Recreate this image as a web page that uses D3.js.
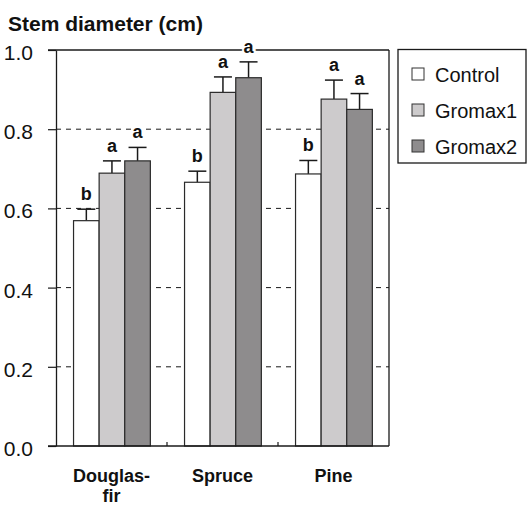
<!DOCTYPE html>
<html><head><meta charset="utf-8">
<script src="https://cdn.jsdelivr.net/npm/d3@7"></script>
<style>body{margin:0;background:#fff}svg{display:block}text{font-family:"Liberation Sans",Arial,Helvetica,sans-serif}</style>
</head><body>
<svg id="c" width="529" height="506"></svg>
<script>
const categories = [["Douglas-","fir"], ["Spruce"], ["Pine"]];
const seriesNames = ["Control", "Gromax1", "Gromax2"];
const control = [0.569, 0.666, 0.687];
const gromax1 = [0.689, 0.893, 0.876];
const gromax2 = [0.720, 0.930, 0.850];
const errControl = [0.029, 0.028, 0.034];
const errGromax1 = [0.031, 0.039, 0.048];
const errGromax2 = [0.034, 0.040, 0.040];
const lettersControl = ["b", "b", "b"];
const lettersGromax1 = ["a", "a", "a"];
const lettersGromax2 = ["a", "a", "a"];
const yTicks = [0, 0.2, 0.4, 0.6, 0.8, 1.0];
const colors = ["#ffffff", "#cdcbcc", "#8e8c8d"];

const values = [control, gromax1, gromax2];
const errs = [errControl, errGromax1, errGromax2];
const letters = [lettersControl, lettersGromax1, lettersGromax2];

const svg = d3.select("#c");
const L = 56, R = 389, T = 50, B = 446;
const y = d3.scaleLinear().domain([0, 1]).range([B, T]);
const catKeys = categories.map(c => c.join(""));
const x0 = d3.scaleBand().domain(catKeys).range([L, R]).padding(0);
const bw = x0.bandwidth();
const x1 = d3.scaleBand().domain(seriesNames).range([bw * 0.158, bw * 0.85]).padding(0);

const ink = "#1a1a1a";

// gridlines (dashed)
svg.append("g").selectAll("line").data(yTicks.filter(v => v > 0 && v < 1)).join("line")
  .attr("x1", L).attr("x2", R).attr("y1", d => y(d)).attr("y2", d => y(d))
  .attr("stroke", ink).attr("stroke-width", 1).attr("stroke-dasharray", "5,5");

// bars
const bars = [];
seriesNames.forEach((s, si) => {
  catKeys.forEach((c, ci) => {
    bars.push({s, si, c, ci, v: values[si][ci], e: errs[si][ci], l: letters[si][ci]});
  });
});

const g = svg.append("g");
// error bars
g.selectAll("line.eb").data(bars).join("line").attr("class", "eb")
  .attr("x1", d => x0(d.c) + x1(d.s) + x1.bandwidth() / 2)
  .attr("x2", d => x0(d.c) + x1(d.s) + x1.bandwidth() / 2)
  .attr("y1", d => y(d.v)).attr("y2", d => y(d.v + d.e))
  .attr("stroke", ink).attr("stroke-width", 1.5);
g.selectAll("line.cap").data(bars).join("line").attr("class", "cap")
  .attr("x1", d => x0(d.c) + x1(d.s) + x1.bandwidth() / 2 - 9)
  .attr("x2", d => x0(d.c) + x1(d.s) + x1.bandwidth() / 2 + 9)
  .attr("y1", d => y(d.v + d.e)).attr("y2", d => y(d.v + d.e))
  .attr("stroke", ink).attr("stroke-width", 1.5);

g.selectAll("rect").data(bars).join("rect")
  .attr("x", d => x0(d.c) + x1(d.s))
  .attr("width", x1.bandwidth())
  .attr("y", d => y(d.v))
  .attr("height", d => y(0) - y(d.v))
  .attr("fill", d => colors[d.si])
  .attr("stroke", "#2a2a2a").attr("stroke-width", 1.2);

// frame
svg.append("line").attr("x1", 48).attr("x2", R).attr("y1", y(1)).attr("y2", y(1)).attr("stroke", ink).attr("stroke-width", 1.3);
svg.append("line").attr("x1", R).attr("x2", R).attr("y1", y(1)).attr("y2", y(0)).attr("stroke", ink).attr("stroke-width", 1.3);

// y axis
const yAxis = d3.axisLeft(y).tickValues(yTicks).tickSize(8).tickSizeOuter(0).tickFormat(d3.format(".1f"));
const ya = svg.append("g").attr("transform", `translate(${L},0)`).call(yAxis);
ya.select(".domain").attr("stroke", ink).attr("stroke-width", 1.3);
ya.selectAll(".tick line").attr("stroke", ink).attr("stroke-width", 1.2);
ya.selectAll(".tick text").attr("x", -23).attr("dy", null).attr("y", 9.5)
  .attr("font-size", 21).attr("fill", "#111").attr("font-family", '"Liberation Sans",Arial,sans-serif');

// x axis
const xAxis = d3.axisBottom(x0).tickSize(0).tickFormat("");
const xa = svg.append("g").attr("transform", `translate(0,${B})`).call(xAxis);
xa.select(".domain").attr("d", `M${48},0H${R}`).attr("stroke", ink).attr("stroke-width", 1.3);
// boundary ticks between categories
svg.append("g").selectAll("line").data(catKeys.slice(1)).join("line")
  .attr("x1", d => x0(d)).attr("x2", d => x0(d)).attr("y1", B).attr("y2", B - 4)
  .attr("stroke", ink).attr("stroke-width", 1.2);

// category labels
const cl = svg.append("g").selectAll("text").data(categories).join("text")
  .attr("x", (d, i) => x0(catKeys[i]) + bw / 2).attr("y", 482)
  .attr("text-anchor", "middle").attr("font-size", 18).attr("font-weight", "bold").attr("fill", "#111");
cl.each(function(d) {
  d.forEach((t, k) => d3.select(this).append("tspan").attr("x", d3.select(this).attr("x")).attr("dy", k === 0 ? 0 : 20).text(t));
});

// letters
svg.append("g").selectAll("text").data(bars).join("text")
  .attr("x", d => x0(d.c) + x1(d.s) + x1.bandwidth() / 2)
  .attr("y", d => y(d.v + d.e) - 9)
  .attr("text-anchor", "middle").attr("font-size", 18).attr("font-weight", "bold")
  .attr("fill", "#111").attr("stroke", "#fff").attr("stroke-width", 4).attr("paint-order", "stroke")
  .text(d => d.l);

// title
svg.append("text").attr("x", 8).attr("y", 31).attr("font-size", 21).attr("font-weight", "bold").attr("fill", "#111").text("Stem diameter (cm)");

// legend
const lg = svg.append("g");
lg.append("rect").attr("x", 398).attr("y", 49.5).attr("width", 128).attr("height", 113.5)
  .attr("fill", "#fff").attr("stroke", ink).attr("stroke-width", 1.3);
const li = lg.selectAll("g.item").data(seriesNames).join("g").attr("class", "item")
  .attr("transform", (d, i) => `translate(0,${74 + i * 36})`);
li.append("rect").attr("x", 412).attr("y", -6).attr("width", 12).attr("height", 12)
  .attr("fill", (d, i) => colors[i]).attr("stroke", "#333").attr("stroke-width", 1);
li.append("text").attr("x", 435).attr("y", 7.5).attr("font-size", 20).attr("fill", "#111").text(d => d);
</script>
</body></html>
